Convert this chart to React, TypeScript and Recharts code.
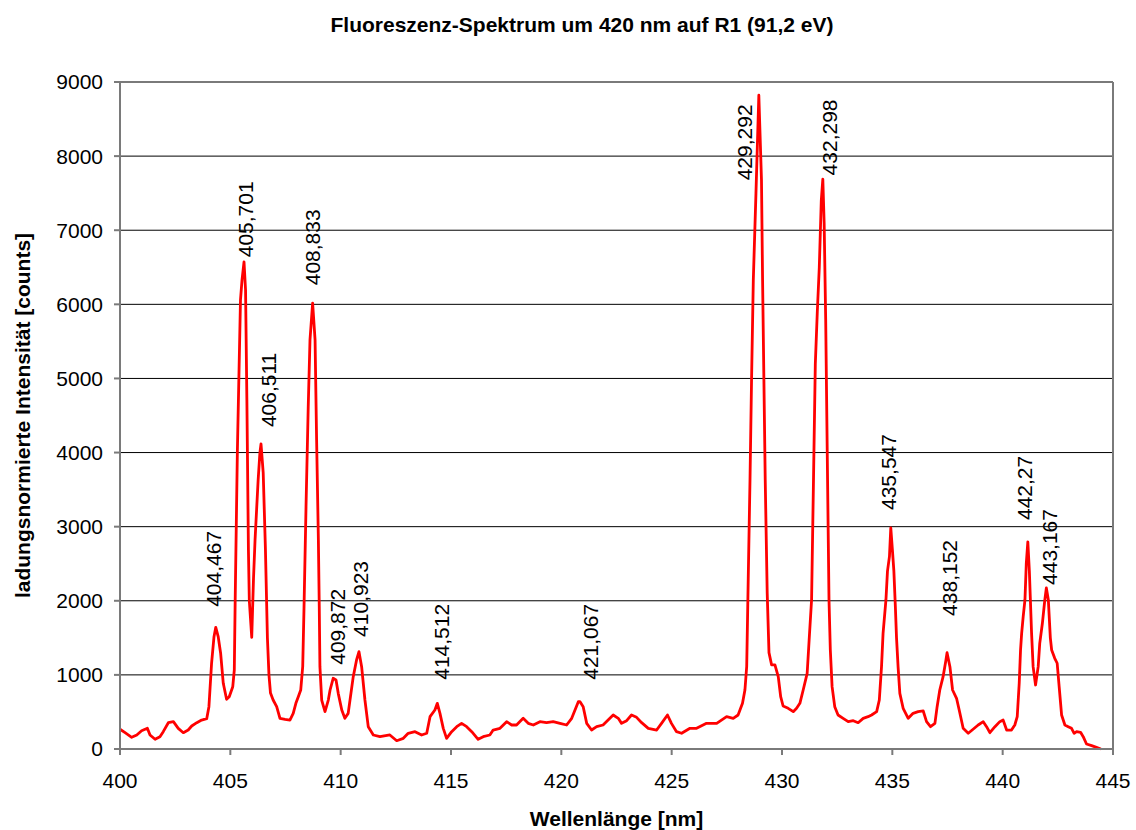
import React from 'react'
import {
  ComposedChart,
  Line,
  Scatter,
  XAxis,
  YAxis,
  CartesianGrid,
  ReferenceLine,
} from 'recharts'

// Wellenlänge [nm] und Intensität [counts]
const wavelengths = [
  400.0, 400.23, 400.53, 400.76, 400.98, 401.24, 401.36, 401.59, 401.81, 401.96,
  402.19, 402.42, 402.64, 402.87, 403.09, 403.25, 403.48, 403.7, 403.93, 404.03,
  404.15, 404.26, 404.34, 404.45, 404.56, 404.68, 404.83, 404.95, 405.11, 405.18,
  405.22, 405.32, 405.46, 405.53, 405.62, 405.69, 405.75, 405.82, 405.86, 405.97,
  406.05, 406.12, 406.26, 406.34, 406.39, 406.49, 406.59, 406.68, 406.75, 406.82,
  406.94, 407.1, 407.25, 407.48, 407.7, 407.85, 407.97, 408.08, 408.19, 408.28,
  408.34, 408.43, 408.53, 408.61, 408.73, 408.84, 408.91, 408.99, 409.03, 409.06,
  409.14, 409.29, 409.44, 409.52, 409.66, 409.79, 409.89, 410.05, 410.19, 410.34,
  410.57, 410.72, 410.83, 410.95, 411.1, 411.25, 411.48, 411.78, 412.23, 412.54,
  412.84, 413.06, 413.37, 413.67, 413.9, 414.05, 414.27, 414.38, 414.5, 414.65,
  414.8, 415.03, 415.26, 415.48, 415.71, 415.94, 416.23, 416.46, 416.76, 416.91,
  417.22, 417.52, 417.75, 417.97, 418.27, 418.5, 418.73, 419.03, 419.33, 419.63,
  419.94, 420.24, 420.47, 420.62, 420.77, 420.84, 420.99, 421.15, 421.37, 421.6,
  421.89, 422.12, 422.35, 422.58, 422.73, 422.96, 423.18, 423.41, 423.64, 423.94,
  424.32, 424.54, 424.81, 424.99, 425.22, 425.45, 425.83, 426.13, 426.58, 427.04,
  427.49, 427.79, 428.01, 428.21, 428.32, 428.4, 428.47, 428.55, 428.62, 428.7,
  428.82, 428.95, 429.07, 429.12, 429.18, 429.24, 429.33, 429.41, 429.53, 429.68,
  429.83, 429.94, 430.05, 430.28, 430.51, 430.66, 430.81, 430.96, 431.14, 431.23,
  431.34, 431.42, 431.51, 431.6, 431.69, 431.78, 431.85, 431.91, 431.98, 432.05,
  432.13, 432.19, 432.27, 432.39, 432.54, 432.77, 433.0, 433.23, 433.45, 433.68,
  433.9, 434.06, 434.29, 434.41, 434.51, 434.58, 434.71, 434.78, 434.87, 434.93,
  435.0, 435.07, 435.14, 435.19, 435.26, 435.34, 435.49, 435.72, 435.94, 436.17,
  436.4, 436.55, 436.73, 436.93, 437.03, 437.15, 437.3, 437.43, 437.48, 437.61,
  437.73, 437.91, 438.03, 438.21, 438.44, 438.66, 438.89, 439.12, 439.27, 439.42,
  439.65, 439.87, 440.02, 440.18, 440.4, 440.55, 440.66, 440.75, 440.81, 440.86,
  440.93, 441.01, 441.07, 441.14, 441.21, 441.31, 441.38, 441.49, 441.61, 441.68,
  441.8, 441.91, 441.98, 442.07, 442.16, 442.22, 442.36, 442.47, 442.56, 442.67,
  442.82, 442.97, 443.12, 443.24, 443.35, 443.53, 443.65, 443.8, 444.03, 444.25,
  444.45,
]

const counts = [
  266, 220, 158, 189, 247, 279, 189, 131, 166, 234,
  355, 369, 279, 220, 256, 310, 355, 391, 409, 571,
  1157, 1516, 1642, 1516, 1292, 887, 671, 706, 841, 1066,
  2011, 4035, 6059, 6329, 6572, 6194, 4710, 2686, 2000, 1507,
  2300, 2820, 3630, 3995, 4116, 3725, 2700, 1500, 1000, 755,
  661, 571, 414, 400, 391, 481, 616, 706, 796, 1111,
  1920, 3270, 4619, 5520, 6015, 5520, 4170, 2820, 1920, 1111,
  661, 504, 661, 796, 954, 931, 751, 526, 414, 481,
  976, 1201, 1313, 1111, 661, 301, 189, 166, 189, 112,
  144, 212, 234, 189, 212, 436, 526, 616, 481, 279,
  144, 234, 301, 346, 301, 234, 131, 166, 189, 256,
  279, 369, 324, 324, 414, 346, 324, 369, 355, 369,
  346, 324, 414, 526, 638, 640, 571, 346, 256, 301,
  324, 391, 459, 414, 346, 382, 459, 427, 355, 279,
  256, 346, 459, 346, 234, 212, 279, 279, 346, 346,
  436, 414, 459, 616, 796, 1111, 2300, 3630, 4980, 6329,
  7500, 8822, 7679, 6329, 4980, 3630, 2100, 1300, 1134, 1134,
  976, 706, 580, 549, 504, 549, 616, 796, 1021, 1471,
  2011, 3500, 5200, 5900, 6500, 7400, 7690, 7100, 5800, 4000,
  2011, 1336, 841, 571, 459, 414, 369, 382, 355, 414,
  436, 459, 504, 661, 1111, 1561, 2011, 2400, 2600, 2983,
  2700, 2400, 1900, 1500, 1111, 751, 549, 414, 481, 504,
  513, 369, 301, 346, 571, 796, 976, 1201, 1300, 1111,
  796, 684, 526, 279, 212, 266, 324, 369, 301, 220,
  301, 369, 391, 256, 256, 324, 436, 887, 1336, 1561,
  1786, 2011, 2500, 2794, 2400, 1561, 1111, 864, 1111, 1426,
  1696, 2011, 2173, 2011, 1500, 1336, 1224, 1157, 841, 459,
  324, 301, 279, 212, 234, 225, 166, 67, 45, 22,
  0,
]

// Beschriftung der Linien (Ankerpunkt = unteres Ende des gedrehten Textes)
const peakLabels = [
  '404,467', '405,701', '406,511', '408,833', '409,872', '410,923', '414,512',
  '421,067', '429,292', '432,298', '435,547', '438,152', '442,27', '443,167',
]
const labelNm = [
  404.24, 405.71, 406.71, 408.74, 409.86, 410.92, 414.59,
  421.3, 428.3, 432.15, 434.82, 437.58, 440.98, 442.12,
]
const labelCounts = [
  1918, 6635, 4344, 6257, 1137, 1513, 934,
  934, 7673, 7740, 3225, 1796, 3090, 2214,
]

const xTicks = [400, 405, 410, 415, 420, 425, 430, 435, 440, 445]
const yTicks = [0, 1000, 2000, 3000, 4000, 5000, 6000, 7000, 8000, 9000]

const spectrum = wavelengths.map((nm, i) => ({ nm, v: counts[i] }))
const annotations = peakLabels.map((text, i) => ({ nm: labelNm[i], v: labelCounts[i], text }))

const FONT = '"Liberation Sans", Arial, sans-serif'
const axisGrey = '#7a7a7a'

function PeakLabel(props: any) {
  const { cx, cy, payload } = props
  if (cx == null || cy == null) return null
  return (
    <text
      x={cx}
      y={cy}
      transform={`rotate(-90, ${cx}, ${cy})`}
      textAnchor="start"
      dominantBaseline="central"
      fontFamily={FONT}
      fontSize={21}
      fill="#000"
    >
      {payload.text}
    </text>
  )
}

export default function App() {
  return (
    <div style={{ position: 'absolute', left: 0, top: 0, width: 1136, height: 830, background: '#fff' }}>
      <div
        style={{
          position: 'absolute',
          left: 0,
          top: 13,
          width: 1164,
          textAlign: 'center',
          fontFamily: FONT,
          fontWeight: 'bold',
          fontSize: 21,
          color: '#000',
        }}
      >
        Fluoreszenz-Spektrum um 420 nm auf R1 (91,2 eV)
      </div>
      <ComposedChart
        width={1136}
        height={830}
        margin={{ top: 82, right: 23, bottom: 21, left: 10 }}
      >
        <CartesianGrid horizontal vertical={false} stroke="#000" strokeWidth={1} />
        <XAxis
          type="number"
          dataKey="nm"
          domain={[400, 445]}
          ticks={xTicks}
          interval={0}
          height={60}
          tickSize={6}
          tickMargin={18}
          stroke={axisGrey}
          strokeWidth={2}
          tick={{ fontSize: 21, fill: '#000', fontFamily: FONT }}
          label={{
            content: (p: any) => {
              const vb = p.viewBox
              return (
                <text
                  x={vb.x + vb.width / 2}
                  y={818}
                  textAnchor="middle"
                  dominantBaseline="central"
                  fontFamily={FONT}
                  fontWeight="bold"
                  fontSize={21}
                  fill="#000"
                >
                  Wellenlänge [nm]
                </text>
              )
            },
          }}
        />
        <YAxis
          type="number"
          dataKey="v"
          domain={[0, 9000]}
          ticks={yTicks}
          interval={0}
          width={110}
          tickSize={6}
          tickMargin={11}
          stroke={axisGrey}
          strokeWidth={2}
          tick={{ fontSize: 21, fill: '#000', fontFamily: FONT }}
          label={{
            content: (p: any) => {
              const vb = p.viewBox
              const cy = vb.y + vb.height / 2
              return (
                <text
                  x={22}
                  y={cy}
                  transform={`rotate(-90, 22, ${cy})`}
                  textAnchor="middle"
                  dominantBaseline="central"
                  fontFamily={FONT}
                  fontWeight="bold"
                  fontSize={21}
                  fill="#000"
                >
                  ladungsnormierte Intensität [counts]
                </text>
              )
            },
          }}
        />
        <ReferenceLine y={9000} stroke={axisGrey} strokeWidth={2} />
        <ReferenceLine x={445} stroke={axisGrey} strokeWidth={2} />
        <Line
          data={spectrum}
          dataKey="v"
          type="linear"
          stroke="#ff0000"
          strokeWidth={2.8}
          strokeLinejoin="round"
          dot={false}
          activeDot={false}
          isAnimationActive={false}
        />
        <Scatter
          data={annotations}
          dataKey="v"
          shape={PeakLabel}
          isAnimationActive={false}
        />
      </ComposedChart>
    </div>
  )
}
